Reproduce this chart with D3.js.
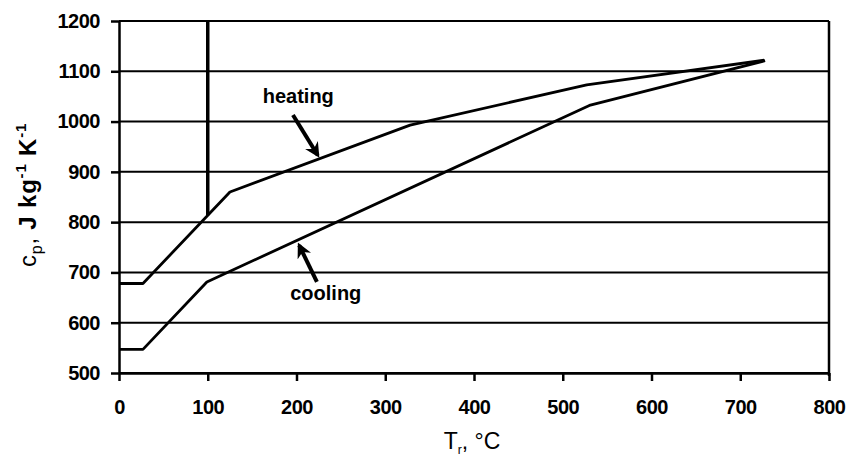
<!DOCTYPE html>
<html>
<head>
<meta charset="utf-8">
<script src="https://cdn.jsdelivr.net/npm/d3@7"></script>
<style>
  body { margin: 0; background: #fff; }
  svg { font-family: "Liberation Sans", Arial, sans-serif; }
</style>
</head>
<body>
<div class="chart"></div>
<script>
// temperature (°C) and specific heat (J kg-1 K-1)
const tempHeating = [0, 27, 125, 328, 527, 727];
const cpHeating = [678, 678, 860, 993, 1073, 1122];
const tempCooling = [0, 27, 99, 530, 728];
const cpCooling = [547, 547, 681, 1032, 1121];

const xTicks = [0, 100, 200, 300, 400, 500, 600, 700, 800];
const yTicks = [500, 600, 700, 800, 900, 1000, 1100, 1200];

// vertical marker at 100 °C, from the top down to the heating curve
const markerTemp = 100;
const markerCp = [1200, 814];

// annotation labels with arrows, in data units
const notes = [
  { label: "heating", x: 202, y: 1037, from: [196, 1013], to: [224, 933] },
  { label: "cooling", x: 233, y: 645, from: [223, 681], to: [203, 754] },
];

const W = 850, H = 457;
const margin = { top: 21, right: 21, bottom: 84, left: 119 };

const x = d3.scaleLinear().domain([0, 800]).range([margin.left, W - margin.right]);
const y = d3.scaleLinear().domain([500, 1200]).range([H - margin.bottom, margin.top]);

const svg = d3.select(".chart").append("svg")
  .attr("width", W)
  .attr("height", H);

svg.append("defs").append("marker")
  .attr("id", "head")
  .attr("viewBox", "0 0 10 10")
  .attr("refX", 8)
  .attr("refY", 5)
  .attr("markerWidth", 15)
  .attr("markerHeight", 15)
  .attr("markerUnits", "userSpaceOnUse")
  .attr("orient", "auto")
  .append("path")
  .attr("d", "M0,0 L10,5 L0,10 L3,5 Z")
  .attr("fill", "#000");

// horizontal gridlines
svg.append("g")
  .selectAll("line")
  .data(yTicks)
  .enter()
  .append("line")
  .attr("x1", x(0))
  .attr("x2", x(800))
  .attr("y1", (d) => y(d))
  .attr("y2", (d) => y(d))
  .attr("stroke", "#000")
  .attr("stroke-width", 2);

// right border
svg.append("line")
  .attr("x1", x(800)).attr("x2", x(800))
  .attr("y1", y(1200)).attr("y2", y(500) + 3)
  .attr("stroke", "#000")
  .attr("stroke-width", 2.5);

const xAxis = svg.append("g")
  .attr("transform", "translate(0," + y(500) + ")")
  .call(d3.axisBottom(x).tickValues(xTicks).tickFormat(d3.format("d"))
    .tickSize(8).tickSizeOuter(0).tickPadding(19));

const yAxis = svg.append("g")
  .attr("transform", "translate(" + x(0) + ",0)")
  .call(d3.axisLeft(y).tickValues(yTicks).tickFormat(d3.format("d"))
    .tickSize(8).tickSizeOuter(0).tickPadding(11));

[xAxis, yAxis].forEach((g) => {
  g.select(".domain").attr("stroke", "#000").attr("stroke-width", 2.5);
  g.selectAll(".tick line").attr("stroke", "#000").attr("stroke-width", 2.5);
  g.selectAll(".tick text")
    .attr("fill", "#000")
    .style("font-family", '"Liberation Sans", Arial, sans-serif')
    .style("font-size", "20px")
    .style("font-weight", "bold")
    .style("letter-spacing", "-0.5px");
});

// vertical marker
svg.append("line")
  .attr("x1", x(markerTemp)).attr("x2", x(markerTemp))
  .attr("y1", y(markerCp[0])).attr("y2", y(markerCp[1]))
  .attr("stroke", "#000")
  .attr("stroke-width", 3.5);

const line = d3.line()
  .x((d) => x(d[0]))
  .y((d) => y(d[1]));

[[tempHeating, cpHeating], [tempCooling, cpCooling]].forEach(([t, c]) => {
  svg.append("path")
    .datum(t.map((v, i) => [v, c[i]]))
    .attr("d", line)
    .attr("fill", "none")
    .attr("stroke", "#000")
    .attr("stroke-width", 2.8)
    .attr("stroke-linejoin", "round");
});

notes.forEach((n) => {
  svg.append("text")
    .attr("x", x(n.x))
    .attr("y", y(n.y))
    .attr("text-anchor", "middle")
    .style("font-size", "20px")
    .style("font-weight", "bold")
    .text(n.label);
  svg.append("line")
    .attr("x1", x(n.from[0])).attr("y1", y(n.from[1]))
    .attr("x2", x(n.to[0])).attr("y2", y(n.to[1]))
    .attr("stroke", "#000")
    .attr("stroke-width", 4)
    .attr("marker-end", "url(#head)");
});

// axis titles
const xt = svg.append("text")
  .attr("x", 472)
  .attr("y", 449)
  .attr("text-anchor", "middle")
  .style("font-size", "23px");
xt.append("tspan").text("T");
xt.append("tspan").attr("dy", 5).style("font-size", "12px").text("r");
xt.append("tspan").attr("dy", -5).text(", °C");

const yt = svg.append("text")
  .attr("transform", "translate(36,195) rotate(-90)")
  .attr("text-anchor", "middle")
  .style("font-size", "24px")
  .style("letter-spacing", "0.8px");
yt.append("tspan").text("c");
yt.append("tspan").attr("dy", 6).style("font-size", "16px").text("p");
yt.append("tspan").attr("dy", -6).text(", ");
yt.append("tspan").style("font-weight", "bold").text("J kg");
yt.append("tspan").attr("dy", -10).style("font-size", "15px").style("font-weight", "bold").text("-1");
yt.append("tspan").attr("dy", 10).style("font-weight", "bold").text(" K");
yt.append("tspan").attr("dy", -10).style("font-size", "15px").style("font-weight", "bold").text("-1");
</script>
</body>
</html>
